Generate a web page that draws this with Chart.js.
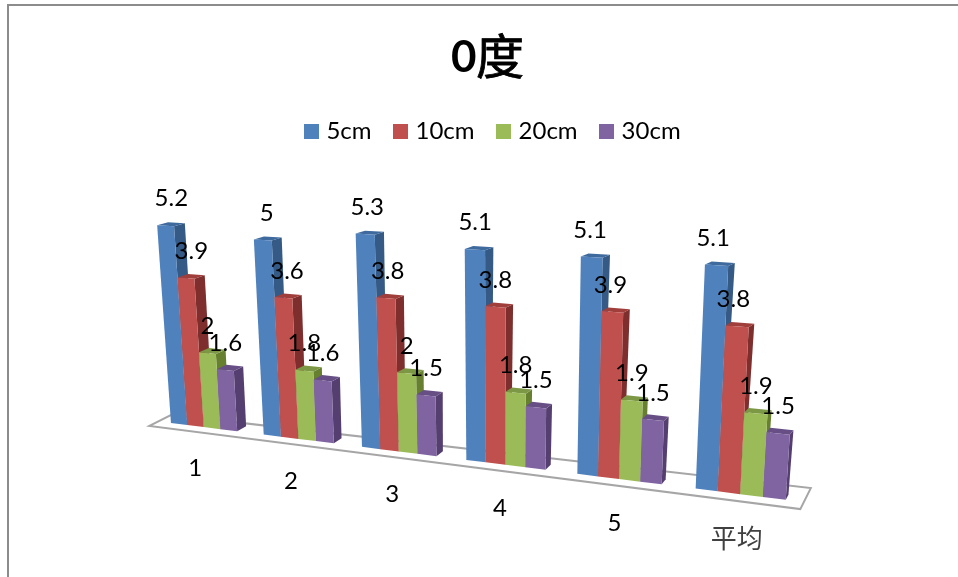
<!DOCTYPE html>
<html>
<head>
<meta charset="utf-8">
<title>0度</title>
<script src="https://cdn.jsdelivr.net/npm/chart.js@4/dist/chart.umd.min.js"></script>
<style>
    html, body { margin: 0; padding: 0; background: #fff; overflow: hidden; }
    #wrap { position: relative; width: 958px; height: 577px; }
</style>
</head>
<body>
<div id="wrap"><canvas id="barChart"></canvas></div>
<script>
const categories = ['1', '2', '3', '4', '5', '平均'];
const seriesNames = ['5cm', '10cm', '20cm', '30cm'];
const values5cm = [5.2, 5, 5.3, 5.1, 5.1, 5.1];
const values10cm = [3.9, 3.6, 3.8, 3.8, 3.9, 3.8];
const values20cm = [2, 1.8, 2, 1.8, 1.9, 1.9];
const values30cm = [1.6, 1.6, 1.5, 1.5, 1.5, 1.5];

const frontColors = ['#4f81bd', '#c0504d', '#9bbb59', '#8064a2'];
const topColors = ['#3e6a9e', '#a03e3b', '#7c9845', '#674f86'];
const sideColors = ['#355a85', '#7e2f2d', '#66802f', '#553f70'];

const FONT = 'Lato, "Noto Sans CJK SC", sans-serif';
const DEPTH_VALUE = 5;

// front plane of the bars on screen: floor left, floor right, top right, top left
const plane = [[158.4, 421.4], [803.8, 502.1], [818.4, 276.5], [144.7, 232.2]];

function makeProjection(q) {
    const [x0, y0] = q[0], [x1, y1] = q[1], [x2, y2] = q[2], [x3, y3] = q[3];
    const dx1 = x1 - x2, dx2 = x3 - x2, sx = x0 - x1 + x2 - x3;
    const dy1 = y1 - y2, dy2 = y3 - y2, sy = y0 - y1 + y2 - y3;
    const den = dx1 * dy2 - dx2 * dy1;
    const g = (sx * dy2 - dx2 * sy) / den;
    const h = (dx1 * sy - sx * dy1) / den;
    const a = x1 - x0 + g * x1, b = x3 - x0 + h * x3;
    const d = y1 - y0 + g * y1, e = y3 - y0 + h * y3;
    return function (s, r) {
        const w = g * s + h * r + 1;
        return [(a * s + b * r + x0) / w, (d * s + e * r + y0) / w];
    };
}
const project = makeProjection(plane);

function lerp(a, b, t) { return a + (b - a) * t; }

// how far a bar reaches back, changes with the position on the floor
function depthAt(s, r) {
    return [lerp(lerp(10, 2.5, s), lerp(11, 6, s), r), lerp(-5, -3, r)];
}

function poly(ctx, pts, color) {
    ctx.beginPath();
    pts.forEach((p, i) => i ? ctx.lineTo(p[0], p[1]) : ctx.moveTo(p[0], p[1]));
    ctx.closePath();
    ctx.fillStyle = color;
    ctx.fill();
}

function shift(p, d, k) { return [p[0] + d[0] * k, p[1] + d[1] * k]; }

// legend squares, wider than the room Chart.js keeps for them so the text sits closer
const swatches = frontColors.map(color => {
    const c = document.createElement('canvas');
    c.width = c.height = 15;
    const g = c.getContext('2d');
    g.fillStyle = color;
    g.fillRect(0, 0, 15, 15);
    return c;
});

const frame3d = {
    id: 'frame3d',
    beforeDraw(chart) {
        const ctx = chart.ctx;
        ctx.save();
        ctx.strokeStyle = '#8c8c8c';
        ctx.lineWidth = 2;
        ctx.strokeRect(8, 5, 2000, 2000);

        // title, the digit is bold and the character is not
        ctx.fillStyle = ctx.strokeStyle = '#000000';
        ctx.textBaseline = 'alphabetic';
        ctx.textAlign = 'left';
        ctx.font = 'bold 44px ' + FONT;
        ctx.fillText('0', 451, 72);
        ctx.font = '48px "Noto Sans CJK SC", sans-serif';
        ctx.lineWidth = 0.8;
        ctx.fillText('度', 476, 74);
        ctx.strokeText('度', 476, 74);
        ctx.restore();
    },
    // native flat bars are replaced by the projected ones below
    beforeDatasetDraw() { return false; },
    afterDatasetsDraw(chart) {
        const ctx = chart.ctx;
        const xs = chart.scales.x, ys = chart.scales.y;
        const toS = px => (px - xs.left) / xs.width;
        const toR = py => ys.getValueForPixel(py) / DEPTH_VALUE;

        ctx.save();
        // floor
        const fl = project(0, 0), fr = project(1, 0);
        const floor = [
            shift(fl, depthAt(0, 0), -0.9),
            shift(fl, depthAt(0, 0), 1.3),
            shift(fr, depthAt(1, 0), 2.8),
            shift(fr, depthAt(1, 0), -1.4)
        ];
        poly(ctx, floor, '#ffffff');
        ctx.strokeStyle = '#a6a6a6';
        ctx.lineWidth = 2;
        ctx.stroke();

        const labels = [];
        categories.forEach((cat, i) => {
            seriesNames.forEach((name, k) => {
                const bar = chart.getDatasetMeta(k).data[i];
                const sL = toS(bar.x - bar.width / 2), sR = toS(bar.x + bar.width / 2);
                const rTop = toR(bar.y);
                const bl = project(sL, 0), br = project(sR, 0);
                const tl = project(sL, rTop), tr = project(sR, rTop);
                const dBR = depthAt(sR, 0), dTR = depthAt(sR, rTop), dTL = depthAt(sL, rTop);

                poly(ctx, [br, tr, shift(tr, dTR, 1), shift(br, dBR, 1)], sideColors[k]);
                poly(ctx, [tl, tr, shift(tr, dTR, 1), shift(tl, dTL, 1)], topColors[k]);
                poly(ctx, [bl, br, tr, tl], frontColors[k]);

                labels.push({
                    x: (tl[0] + tr[0]) / 2 + (k < 2 ? lerp(6, -5, sL) : 0),
                    y: (tl[1] + tr[1]) / 2 - 27,
                    text: String(chart.data.datasets[k].data[i])
                });
            });
        });

        // value labels sit over all the bars
        ctx.textAlign = 'center';
        ctx.textBaseline = 'middle';
        ctx.fillStyle = '#000000';
        ctx.font = '24px ' + FONT;
        labels.forEach(l => ctx.fillText(l.text, l.x, l.y));

        // category labels under the floor
        categories.forEach((cat, i) => {
            const s = toS(xs.getPixelForTick(i));
            const p = project(s, 0);
            ctx.fillStyle = i === 5 ? '#404040' : '#000000';
            ctx.font = (i === 5 ? '26px ' : '24px ') + FONT;
            ctx.fillText(cat, p[0] + lerp(-9, -3, s), p[1] + lerp(41, 46, s));
        });
        ctx.restore();
    }
};

const ctx = document.getElementById('barChart');
new Chart(ctx, {
    type: 'bar',
    data: {
        labels: categories,
        datasets: [
            { label: seriesNames[0], data: values5cm, backgroundColor: frontColors[0] },
            { label: seriesNames[1], data: values10cm, backgroundColor: frontColors[1] },
            { label: seriesNames[2], data: values20cm, backgroundColor: frontColors[2] },
            { label: seriesNames[3], data: values30cm, backgroundColor: frontColors[3] }
        ]
    },
    options: {
        responsive: true,
        maintainAspectRatio: false,
        animation: false,
        layout: { padding: { left: 31, top: 93 } },
        datasets: { bar: { categoryPercentage: 0.72, barPercentage: 1 } },
        scales: {
            x: { display: false },
            y: { display: false, min: 0, max: 6 }
        },
        plugins: {
            legend: {
                position: 'top',
                labels: {
                    usePointStyle: true,
                    pointStyleWidth: 6,
                    boxHeight: 15,
                    padding: 26,
                    color: '#000000',
                    font: { family: FONT, size: 24 },
                    generateLabels: chart => Chart.defaults.plugins.legend.labels.generateLabels(chart)
                        .map((item, i) => ({ ...item, pointStyle: swatches[i] }))
                }
            },
            tooltip: { enabled: false }
        }
    },
    plugins: [frame3d]
});
</script>
</body>
</html>
